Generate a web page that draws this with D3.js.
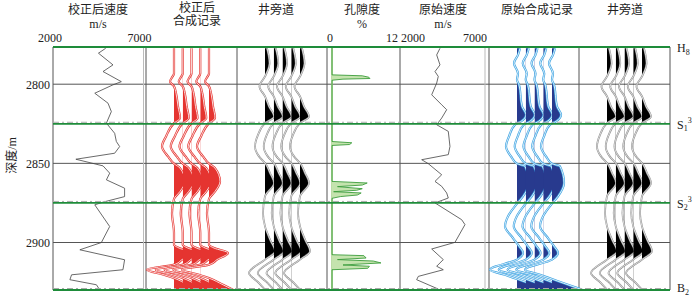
<!DOCTYPE html>
<html>
<head>
<meta charset="utf-8">
<script src="https://cdn.jsdelivr.net/npm/d3@7"></script>
<style>
body { margin: 0; background: #fff; }
svg text { font-family: "Liberation Serif", "Times New Roman", "Noto Sans CJK SC", serif; font-size: 12px; fill: #222; }
</style>
</head>
<body>
<div id="chart"></div>
<script>
// depth axis
const depthDomain = [2776.5, 2930];
const depthTicks = [2800, 2850, 2900];

// horizons: name, subscript, superscript, depth
const horizonNames = ['H', 'S', 'S', 'B'];
const horizonSubs = ['8', '1', '2', '2'];
const horizonSups = ['', '3', '3', ''];
const horizonDepths = [2776.5, 2825, 2875, 2930];

// column headers
const titles = [['校正后速度', 'm/s'], ['校正后', '合成记录'], ['井旁道'], ['孔隙度', '%'], ['原始速度', 'm/s'], ['原始合成记录'], ['井旁道']];
const velRange = [2000, 7000];
const porRange = [0, 12];

// [depth, velocity m/s]
const corrVelocity = [[2777.3,4912],[2780.4,4511],[2787.8,5314],[2792,4764],[2798.4,5775],[2800.4,5314],[2805.7,4308],[2812,5040],[2817.3,5224],[2824.6,4950],[2831,5407],[2836.2,5500],[2839.4,5682],[2843.6,5407],[2847.4,3264],[2851.6,4764],[2856.2,5132],[2860.4,4950],[2865.7,5956],[2871,5956],[2874.5,4764],[2876.2,4308],[2889.9,5132],[2900,4673],[2904.6,3484],[2910.9,5956],[2917.2,5864],[2920.4,3026],[2923.5,2934],[2926.7,4400],[2929.9,4582]];
const origVelocity = [[2777.3,4321],[2781.5,4124],[2787.8,4321],[2792,4024],[2795.1,4219],[2799.3,4124],[2806.7,3827],[2813,4421],[2816.1,4719],[2821.4,4421],[2825.6,4124],[2829.8,4815],[2839.3,4915],[2844.5,4815],[2847.7,3232],[2850.2,3625],[2857.2,4421],[2861.4,4024],[2864.5,4421],[2868.7,4719],[2871.9,4815],[2875,4024],[2885.6,5612],[2888.7,5808],[2899.9,5213],[2904.1,3827],[2910.8,4517],[2915,4124],[2917.2,4517],[2921.4,3030],[2923.5,2932],[2929.4,4219]];

// [depth, porosity %]
const porosity = [[2776.5,0],[2794.1,0],[2794.7,5.5],[2795.6,6.7],[2796.4,6.9],[2796.8,2.0],[2797.5,0],[2836.2,0],[2837.0,3.6],[2838.1,3.2],[2838.7,0],[2861.4,0],[2862.4,6.4],[2863.7,5.5],[2864.7,1.0],[2866,5.5],[2867,4.5],[2867.9,0.3],[2868.7,5.3],[2870,4.6],[2871,1.5],[2872.1,0],[2907.7,0],[2908.3,5.8],[2909.8,6.2],[2910.8,1.0],[2911.7,7.5],[2912.9,8.9],[2914.2,2.0],[2915,6.8],[2916.3,6.5],[2917.2,0],[2930,0]];

// wiggle traces [depth, amplitude]
const corrSynth = [[2777.3,0],[2793.2,0],[2795.7,-2],[2798.3,-4],[2801.4,0],[2805.7,2],[2814.1,4],[2821.4,6],[2824.6,0],[2833,-8],[2839.3,-12],[2845.6,-6],[2850.2,0],[2853,6],[2861.4,11],[2867.7,6],[2872.5,0],[2881.3,-2],[2894,0],[2901.4,0],[2903.5,5],[2906.6,19],[2910.8,8],[2914,0],[2917.2,-27],[2920.4,-10],[2922.5,0],[2926.7,14],[2929.8,24]];
const origSynth = [[2777.3,3],[2781.5,1],[2786.7,-3],[2793.2,1],[2797.2,0],[2800.4,2],[2814.1,5],[2819.3,9],[2823.5,4],[2825.6,-2],[2833,-8],[2839.3,-11],[2845.6,-6],[2850.2,0],[2851.9,8],[2862.4,12],[2870.8,6],[2875.4,0],[2883.5,-9],[2889.8,-12],[2897.2,-4],[2902.4,2],[2906.6,6],[2910.8,0],[2917.2,-27],[2920.4,-12],[2923.1,0],[2926.7,16],[2929.8,30]];
const wellTrace = [[2777.3,2],[2786.7,4.5],[2795.1,0],[2801.4,-5.5],[2807.7,0],[2814.1,4],[2820.4,9],[2824.6,0],[2832,-7],[2839.3,-10],[2845.6,-6],[2849.8,0],[2856.1,5],[2862.4,9],[2870.8,0],[2881.3,-2],[2889.8,0],[2898.2,5],[2905.6,10],[2910.8,0],[2919.3,-16],[2925.6,-6],[2929.8,0]];
const traceIds = [1, 2, 3, 4, 5];

const width = 700, height = 297;
const top0 = 47, bottom0 = 290;
const cols = [
	{ x0: 53, x1: 146, tx: 98 },
	{ x0: 146, x1: 237, tx: 197 },
	{ x0: 237, x1: 327, tx: 276 },
	{ x0: 327, x1: 400, tx: 362 },
	{ x0: 400, x1: 489, tx: 443 },
	{ x0: 489, x1: 579, tx: 537 },
	{ x0: 579, x1: 670, tx: 625 }
];
const left = cols[0].x0, right = cols[6].x1;

let svg = d3.select('#chart').append('svg')
	.attr('width', width)
	.attr('height', height);
let defs = svg.append('defs');

let y = d3.scaleLinear().domain(depthDomain).range([top0, bottom0]);

// grid
let grid = svg.append('g').attr('class', 'grid');
grid.selectAll('line.h')
	.data(depthTicks)
	.enter()
	.append('line')
	.attr('x1', left).attr('x2', right)
	.attr('y1', d => y(d)).attr('y2', d => y(d))
	.style('stroke', '#555').style('stroke-width', 1);
grid.selectAll('line.v')
	.data(cols.map(c => c.x0).concat([right]))
	.enter()
	.append('line')
	.attr('x1', d => d).attr('x2', d => d)
	.attr('y1', top0).attr('y2', bottom0)
	.style('stroke', '#555').style('stroke-width', 1);

// titles
titles.forEach((t, i) => {
	let c = cols[i];
	let y0 = i === 1 ? 11.5 : 14;
	t.forEach((s, j) => {
		svg.append('text')
			.attr('x', c.tx)
			.attr('y', y0 + j * 13.5)
			.attr('text-anchor', 'middle')
			.text(s);
	});
});

// velocity panels
function velPanel(col, data, r0, r1, labelAnchor) {
	let x = d3.scaleLinear().domain(velRange).range([r0, r1]);
	svg.append('line')
		.attr('x1', r1).attr('x2', r1).attr('y1', top0).attr('y2', bottom0)
		.style('stroke', '#bbb').style('stroke-width', 1);
	let line = d3.line().x(d => x(d[1])).y(d => y(d[0]));
	svg.append('path').datum(data)
		.attr('d', line)
		.style('fill', 'none').style('stroke', '#444').style('stroke-width', 0.8);
	svg.append('text').attr('x', x(velRange[0]) + labelAnchor[0]).attr('y', 42)
		.attr('text-anchor', labelAnchor[1]).text(velRange[0]);
	svg.append('text').attr('x', x(velRange[1]) + labelAnchor[2]).attr('y', 42)
		.attr('text-anchor', labelAnchor[3]).text(velRange[1]);
}
velPanel(cols[0], corrVelocity, 53, 143.5, [-3, 'middle', -4, 'middle']);
velPanel(cols[4], origVelocity, 401, 485, [0, 'start', 2, 'end']);

// porosity panel
let px = d3.scaleLinear().domain(porRange).range([332, 398]);
svg.append('line')
	.attr('x1', px(0)).attr('x2', px(0)).attr('y1', top0).attr('y2', bottom0)
	.style('stroke', '#a9d38f').style('stroke-width', 1.6);
svg.append('path').datum(porosity)
	.attr('d', d3.area().x0(px(0)).x1(d => px(d[1])).y(d => y(d[0])))
	.style('fill', '#c4e3ae');
svg.append('path').datum(porosity)
	.attr('d', d3.line().x(d => px(d[1])).y(d => y(d[0])))
	.style('fill', 'none').style('stroke', '#3c9d3c').style('stroke-width', 0.9);
svg.append('text').attr('x', px(0) - 2).attr('y', 42).attr('text-anchor', 'middle').text(porRange[0]);
svg.append('text').attr('x', px(12)).attr('y', 42).attr('text-anchor', 'end').text(porRange[1]);

// wiggle panels
let amp = d3.scaleLinear().domain([0, 10]).range([0, 10]);
function wigglePanel(col, key, wave, fill, stroke, w0, w1) {
	let g = svg.append('g').attr('class', 'traces-' + key);
	let tx = d3.scaleLinear().domain([1, 5]).range([col.x0 + 28, col.x0 + 63]);
	traceIds.forEach(t => {
		let base = tx(t);
		let clipId = 'clip-' + key + '-' + t;
		defs.append('clipPath').attr('id', clipId)
			.append('rect')
			.attr('x', base).attr('y', top0)
			.attr('width', col.x1 - base).attr('height', bottom0 - top0);
		let area = d3.area().curve(d3.curveMonotoneY)
			.y(d => y(d[0])).x0(base).x1(d => base + amp(d[1]));
		let line = d3.line().curve(d3.curveMonotoneY)
			.y(d => y(d[0])).x(d => base + amp(d[1]));
		g.append('path').datum(wave).attr('d', area)
			.attr('clip-path', 'url(#' + clipId + ')')
			.style('fill', fill);
		g.append('path').datum(wave).attr('d', line)
			.style('fill', 'none').style('stroke', stroke).style('stroke-width', w0);
		g.append('path').datum(wave).attr('d', line)
			.style('fill', 'none').style('stroke', '#fff').style('stroke-width', w1);
	});
}
wigglePanel(cols[1], 'corr', corrSynth, '#e53430', '#e53430', 2.2, 0.8);
wigglePanel(cols[2], 'well1', wellTrace, '#000', '#888', 1.8, 0.7);
wigglePanel(cols[5], 'orig', origSynth, '#283a8e', '#3aa2e2', 2.2, 0.8);
wigglePanel(cols[6], 'well2', wellTrace, '#000', '#888', 1.8, 0.7);

// horizons
horizonDepths.forEach((d, i) => {
	if (i > 0) {
		svg.append('line')
			.attr('x1', left).attr('x2', right)
			.attr('y1', y(d) - 1.5).attr('y2', y(d) - 1.5)
			.style('stroke', '#aaa').style('stroke-dasharray', '6,3,2,3');
	}
	svg.append('line')
		.attr('x1', left).attr('x2', right)
		.attr('y1', y(d)).attr('y2', y(d))
		.style('stroke', '#1e8c3a').style('stroke-width', 1.8);
	let t = svg.append('text').attr('x', 677).attr('y', i === 3 ? y(d) + 2 : y(d) + 5);
	t.append('tspan').text(horizonNames[i]);
	t.append('tspan').attr('dy', 2.5).style('font-size', '8px').text(horizonSubs[i]);
	if (horizonSups[i]) {
		t.append('tspan').attr('dy', -8.5).style('font-size', '8px').text(horizonSups[i]);
	}
});

// depth axis
let yAxis = d3.axisLeft(y).tickValues(depthTicks).tickSize(0).tickPadding(3).tickFormat(d3.format('d'));
let gY = svg.append('g').attr('transform', `translate(${left},0)`).call(yAxis);
gY.select('.domain').remove();
gY.selectAll('text').style('fill', '#222');
svg.append('text')
	.attr('transform', `translate(16,${y(2845)}) rotate(-90)`)
	.attr('text-anchor', 'middle')
	.text('深度/m');
</script>
</body>
</html>
